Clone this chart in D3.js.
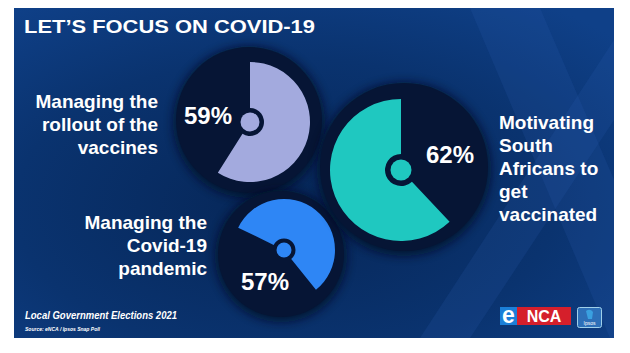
<!DOCTYPE html>
<html><head><meta charset="utf-8">
<script src="https://cdn.jsdelivr.net/npm/d3@7"></script>
<style>html,body{margin:0;padding:0;background:#fff;} svg{display:block;}</style>
</head><body>
<svg id="chart" width="630" height="353"></svg>
<script>
// ---------- data ----------
const title = "LET\u2019S FOCUS ON COVID-19";
const categories = [
  "Managing the rollout of the vaccines",
  "Motivating South Africans to get vaccinated",
  "Managing the Covid-19 pandemic"
];
const values = [59, 62, 57];
const labelLines = [
  ["Managing the", "rollout of the", "vaccines"],
  ["Motivating", "South", "Africans to", "get", "vaccinated"],
  ["Managing the", "Covid-19", "pandemic"]
];
const footerTitle = "Local Government Elections 2021";
const footerSource = "Source: eNCA / Ipsos Snap Poll";

// ---------- layout / style ----------
const font = "'Liberation Sans', Arial, Helvetica, sans-serif";
const layout = [
  {cx:250, cy:122, r:60, bgx:249, bgy:120, bgr:73, hub:14, dot:9.5, start:0, dir:1, color:"#a3aade",
   pct:{x:208, y:124}, lab:{x:158, y:108, anchor:"end"}},
  {cx:401, cy:170, r:71, bgx:404, bgy:167, bgr:84, hub:16, dot:10.5, start:0, dir:-1, color:"#1fc8c0",
   pct:{x:450, y:163}, lab:{x:499, y:129, anchor:"start"}},
  {cx:284, cy:250, r:51, bgx:281, bgy:254, bgr:63, hub:11.5, dot:7.5, start:-64, dir:1, color:"#2e86f5",
   pct:{x:265, y:290}, lab:{x:207, y:229, anchor:"end"}}
];
const panel = {x:14, y:8, w:600, h:330};

const svg = d3.select("#chart");
const defs = svg.append("defs");

const bg = defs.append("radialGradient").attr("id","bgGrad")
  .attr("cx","45%").attr("cy","60%").attr("r","75%");
bg.append("stop").attr("offset","0%").attr("stop-color","#062657");
bg.append("stop").attr("offset","60%").attr("stop-color","#0a336f");
bg.append("stop").attr("offset","100%").attr("stop-color","#0f4088");

const sh = defs.append("filter").attr("id","shadow").attr("x","-30%").attr("y","-30%").attr("width","160%").attr("height","160%");
sh.append("feGaussianBlur").attr("stdDeviation",5);

const clip = defs.append("clipPath").attr("id","panelClip");
clip.append("rect").attr("x",panel.x).attr("y",panel.y).attr("width",panel.w).attr("height",panel.h);

svg.append("rect").attr("width",630).attr("height",353).attr("fill","#ffffff");
const g = svg.append("g").attr("clip-path","url(#panelClip)");
g.append("rect").attr("x",panel.x).attr("y",panel.y).attr("width",panel.w).attr("height",panel.h).attr("fill","url(#bgGrad)");

// faint X shape on the right
g.append("path").attr("d","M470,8 L540,8 L640,240 L640,338 L610,338 Z").attr("fill","#2a5fb0").attr("opacity",0.18);
g.append("path").attr("d","M614,40 L614,120 L470,338 L420,338 Z").attr("fill","#2a5fb0").attr("opacity",0.18);

// title
g.append("text").attr("x",24).attr("y",33).text(title)
  .attr("font-family",font).attr("font-weight","bold").attr("font-size",18)
  .attr("fill","#ffffff").attr("textLength",291).attr("lengthAdjust","spacingAndGlyphs");

const angle = d3.scaleLinear().domain([0,100]).range([0, 2*Math.PI]);
const order = [0, 2, 1];

order.forEach(i => {
  const L = layout[i];
  const gg = g.append("g");
  gg.append("circle").attr("cx",L.bgx).attr("cy",L.bgy+2).attr("r",L.bgr+3)
    .attr("fill","#020c24").attr("opacity",0.7).attr("filter","url(#shadow)");
  gg.append("circle").attr("cx",L.bgx).attr("cy",L.bgy).attr("r",L.bgr).attr("fill","#061535");
  const s = L.start*Math.PI/180;
  const arc = d3.arc().innerRadius(L.hub).outerRadius(L.r)
    .startAngle(L.dir > 0 ? s : s - angle(values[i]))
    .endAngle(L.dir > 0 ? s + angle(values[i]) : s);
  gg.append("path").attr("transform",`translate(${L.cx},${L.cy})`).attr("d",arc()).attr("fill",L.color);
  gg.append("circle").attr("cx",L.cx).attr("cy",L.cy).attr("r",L.dot).attr("fill",L.color);
  gg.append("text").attr("x",L.pct.x).attr("y",L.pct.y).attr("text-anchor","middle")
    .attr("font-family",font).attr("font-weight","bold").attr("font-size",24).attr("fill","#ffffff")
    .text(values[i] + "%");
  const t = g.append("text").attr("font-family",font).attr("font-weight","bold").attr("font-size",19)
    .attr("fill","#ffffff").attr("text-anchor",L.lab.anchor);
  labelLines[i].forEach((ln, k) => {
    t.append("tspan").attr("x",L.lab.x).attr("y",L.lab.y + k*23).text(ln);
  });
});

// footer
g.append("text").attr("x",25).attr("y",319).text(footerTitle)
  .attr("font-family",font).attr("font-weight","bold").attr("font-style","italic").attr("font-size",10)
  .attr("fill","#ffffff").attr("textLength",152).attr("lengthAdjust","spacingAndGlyphs");
g.append("text").attr("x",25).attr("y",331).text(footerSource)
  .attr("font-family",font).attr("font-weight","bold").attr("font-style","italic").attr("font-size",5.5)
  .attr("fill","#ffffff").attr("textLength",75).attr("lengthAdjust","spacingAndGlyphs");

// logos
const lg = g.append("g");
lg.append("rect").attr("x",500).attr("y",307).attr("width",17).attr("height",18).attr("fill","#1b7fd8");
lg.append("rect").attr("x",517).attr("y",307).attr("width",54).attr("height",18).attr("fill","#d51f2b");
lg.append("text").attr("x",508.5).attr("y",323).attr("text-anchor","middle").text("e")
  .attr("font-family",font).attr("font-weight","bold").attr("font-size",23).attr("fill","#ffffff");
lg.append("text").attr("x",544).attr("y",322).attr("text-anchor","middle").text("NCA")
  .attr("font-family",font).attr("font-weight","bold").attr("font-size",16).attr("fill","#ffffff");
lg.append("rect").attr("x",577.5).attr("y",307.5).attr("width",24).attr("height",20).attr("rx",2)
  .attr("fill","#2d6fb8").attr("stroke","#9fd0ea").attr("stroke-width",1);
lg.append("path").attr("d","M586,311 q4,-3 7,1 l-1,7 h-4 z").attr("fill","#3aa0e0");
lg.append("text").attr("x",589.5).attr("y",325).attr("text-anchor","middle").text("Ipsos")
  .attr("font-family",font).attr("font-size",5).attr("fill","#ffffff");
</script>
</body></html>
